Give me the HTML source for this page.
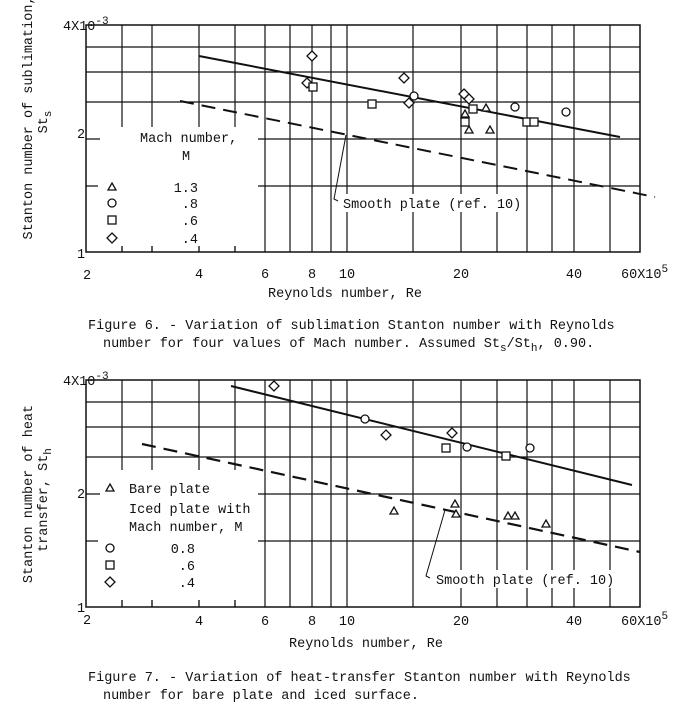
<!DOCTYPE html>
<html><head><meta charset="utf-8"><style>
html,body{margin:0;padding:0;background:#fff;}
svg{display:block;}
text{font-family:"Liberation Mono",monospace;font-size:13.5px;fill:#111;}
</style></head><body>
<svg width="683" height="712" viewBox="0 0 683 712" xmlns="http://www.w3.org/2000/svg">
<!-- ===== TOP CHART ===== -->
<g stroke="#111" stroke-width="1.2" fill="none">
<path d="M122 25V252M152 25V252M199 25V252M235 25V252M265 25V252M290 25V252M312 25V252M331 25V252M347 25V252M413 25V252M461 25V252M497 25V252M527 25V252M552 25V252M574 25V252M610 25V252"/>
<path d="M86 47H640M86 72H640M86 102H640M86 139H640M86 186H640"/>
</g>
<rect x="87" y="127" width="171" height="119" fill="#fff"/>
<g stroke="#111" stroke-width="1.2">
<path d="M122 246V252M152 246V252M199 246V252M235 246V252M86 139H100M86 186H98"/>
</g>
<rect x="86" y="25" width="554" height="227" fill="none" stroke="#111" stroke-width="1.5"/>
<!-- lines -->
<line x1="199" y1="56" x2="620" y2="137" stroke="#111" stroke-width="2"/>
<line x1="180" y1="101" x2="655" y2="197" stroke="#111" stroke-width="2" stroke-dasharray="14,8"/>
<!-- callout -->
<rect x="339" y="194" width="186" height="18" fill="#fff"/>
<path d="M346 135L334 199L338 201" stroke="#111" stroke-width="1" fill="none"/>
<text x="343" y="208">Smooth plate (ref. 10)</text>
<!-- points -->
<g stroke="#111" stroke-width="1.3" fill="#fff">
<path d="M312 51l5 5-5 5-5-5z M307 78l5 5-5 5-5-5z M404 73l5 5-5 5-5-5z M409 98l5 5-5 5-5-5z M464 89l5 5-5 5-5-5z M469 94l5 5-5 5-5-5z"/>
<rect x="309" y="83" width="8" height="8"/><rect x="368" y="100" width="8" height="8"/><rect x="469" y="105" width="8" height="8"/><rect x="461" y="118" width="8" height="8"/><rect x="523" y="118" width="8" height="8"/><rect x="530" y="118" width="8" height="8"/>
<circle cx="414" cy="96" r="4"/><circle cx="515" cy="107" r="4"/><circle cx="566" cy="112" r="4"/>
<path d="M465 110l4 7h-8z M486 104l4 7h-8z M469 126l4 7h-8z M490 126l4 7h-8z"/>
<!-- legend -->
<path d="M112 183l4 7h-8z"/><circle cx="112" cy="203" r="4"/><rect x="108" y="216" width="8" height="8"/><path d="M112 233l5 5-5 5-5-5z"/>
</g>
<text x="140" y="142">Mach number,</text>
<text x="186" y="160" text-anchor="middle">M</text>
<text x="198" y="192" text-anchor="end">1.3</text>
<text x="198" y="208" text-anchor="end">.8</text>
<text x="198" y="225" text-anchor="end">.6</text>
<text x="198" y="243" text-anchor="end">.4</text>
<!-- axis labels -->
<text x="63" y="30">4X10<tspan dy="-6" font-size="11">-3</tspan></text>
<text x="77" y="138">2</text>
<text x="77" y="258">1</text>
<g text-anchor="middle">
<text x="87" y="279">2</text><text x="199" y="278">4</text><text x="265" y="278">6</text><text x="312" y="278">8</text><text x="347" y="278">10</text><text x="461" y="278">20</text><text x="574" y="278">40</text>
</g>
<text x="621" y="278">60X10<tspan dy="-6" font-size="11">5</tspan></text>
<text x="268" y="297">Reynolds number, Re</text>
<text transform="translate(32,118) rotate(-90)" text-anchor="middle">Stanton number of sublimation,</text>
<text transform="translate(47,122) rotate(-90)" text-anchor="middle">St<tspan dy="4" font-size="11">s</tspan></text>
<text x="88" y="329">Figure 6. - Variation of sublimation Stanton number with Reynolds</text>
<text x="103" y="347">number for four values of Mach number.  Assumed  St<tspan dy="4" font-size="11">s</tspan><tspan dy="-4">/St</tspan><tspan dy="4" font-size="11">h</tspan><tspan dy="-4">, 0.90.</tspan></text>

<!-- ===== BOTTOM CHART ===== -->
<g stroke="#111" stroke-width="1.2" fill="none">
<path d="M122 380V607M152 380V607M199 380V607M235 380V607M265 380V607M290 380V607M312 380V607M331 380V607M347 380V607M413 380V607M461 380V607M497 380V607M527 380V607M552 380V607M574 380V607M610 380V607"/>
<path d="M86 402H640M86 427H640M86 457H640M86 494H640M86 541H640"/>
</g>
<rect x="87" y="470" width="171" height="130" fill="#fff"/>
<g stroke="#111" stroke-width="1.2">
<path d="M122 600V607M152 600V607M199 600V607M235 600V607M86 494H100M86 541H98"/>
</g>
<rect x="86" y="380" width="554" height="227" fill="none" stroke="#111" stroke-width="1.5"/>
<line x1="231" y1="386" x2="632" y2="485" stroke="#111" stroke-width="2"/>
<line x1="142" y1="444" x2="640" y2="552" stroke="#111" stroke-width="2.2" stroke-dasharray="14,8"/>
<rect x="432" y="570" width="186" height="18" fill="#fff"/>
<path d="M445 510L426 576L430 578" stroke="#111" stroke-width="1" fill="none"/>
<text x="436" y="584">Smooth plate (ref. 10)</text>
<g stroke="#111" stroke-width="1.3" fill="#fff">
<path d="M274 381l5 5-5 5-5-5z M386 430l5 5-5 5-5-5z M452 428l5 5-5 5-5-5z"/>
<circle cx="365" cy="419" r="4"/><circle cx="467" cy="447" r="4"/><circle cx="530" cy="448" r="4"/>
<rect x="442" y="444" width="8" height="8"/><rect x="502" y="452" width="8" height="8"/>
<path d="M394 507l4 7h-8z M455 500l4 7h-8z M456 510l4 7h-8z M508 512l4 7h-8z M515 512l4 7h-8z M546 520l4 7h-8z"/>
<path d="M110 484l4 7h-8z"/><circle cx="110" cy="548" r="4"/><rect x="106" y="561" width="8" height="8"/><path d="M110 577l5 5-5 5-5-5z"/>
</g>
<text x="129" y="493">Bare plate</text>
<text x="129" y="513">Iced plate with</text>
<text x="129" y="531">Mach number, M</text>
<text x="195" y="553" text-anchor="end">0.8</text>
<text x="195" y="570" text-anchor="end">.6</text>
<text x="195" y="587" text-anchor="end">.4</text>
<text x="63" y="385">4X10<tspan dy="-6" font-size="11">-3</tspan></text>
<text x="77" y="498">2</text>
<text x="77" y="612">1</text>
<g text-anchor="middle">
<text x="87" y="624">2</text><text x="199" y="625">4</text><text x="265" y="625">6</text><text x="312" y="625">8</text><text x="347" y="625">10</text><text x="461" y="625">20</text><text x="574" y="625">40</text>
</g>
<text x="621" y="625">60X10<tspan dy="-6" font-size="11">5</tspan></text>
<text x="289" y="647">Reynolds number, Re</text>
<text transform="translate(32,494) rotate(-90)" text-anchor="middle">Stanton number of heat</text>
<text transform="translate(47,500) rotate(-90)" text-anchor="middle">transfer, St<tspan dy="4" font-size="11">h</tspan></text>
<text x="88" y="681">Figure 7. - Variation of heat-transfer Stanton number with Reynolds</text>
<text x="103" y="699">number for bare plate and iced surface.</text>
</svg>
</body></html>
